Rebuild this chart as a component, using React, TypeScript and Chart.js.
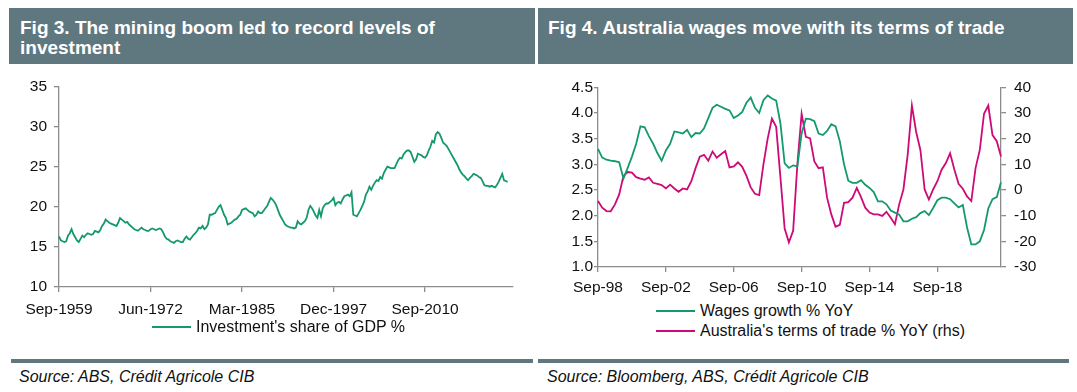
import React, { useEffect, useRef } from 'react';
import { Chart, registerables } from 'chart.js';

Chart.register(...registerables);

const FONT = '"Liberation Sans", Arial, Helvetica, sans-serif';
const GREEN = '#14996b';
const MAGENTA = '#cc0a78';
const AXIS = '#8c8c8c';
const BAND = '#5f7880';
const MONTHS = ['Mar', 'Jun', 'Sep', 'Dec'];

// ---------- Fig 3 data (quarterly, from Sep-1959) ----------
const invStartYear = 1959;
const invQuarterCount = 254;
const invTickLabels = ['Sep-1959', 'Jun-1972', 'Mar-1985', 'Dec-1997', 'Sep-2010'];
const investmentShare = [
  16.3, 15.8, 15.7, 15.6, 15.7, 16.4, 16.7, 17.2, 16.6, 16.2,
  15.8, 15.6, 16.0, 16.4, 16.2, 16.5, 16.7, 16.6, 16.5, 16.6,
  17.0, 16.9, 16.8, 17.1, 17.6, 17.9, 18.4, 18.2, 18.0, 17.9,
  17.8, 17.7, 17.6, 18.0, 18.6, 18.4, 18.2, 18.0, 18.1, 17.8,
  17.6, 17.4, 17.2, 17.1, 17.0, 17.2, 17.4, 17.2, 17.1, 17.0,
  17.0, 17.2, 17.3, 17.2, 17.1, 17.2, 17.3, 17.2, 16.8, 16.3,
  16.0, 15.9, 15.7, 15.6, 15.5, 15.7, 15.8, 15.7, 15.6, 15.6,
  16.0, 16.3, 16.0, 15.9, 16.2, 16.5, 16.7, 17.0, 17.4, 17.3,
  17.6, 17.2, 17.4, 17.8, 19.0, 19.0, 19.1, 19.2, 19.6, 20.0,
  20.2, 19.6, 19.0, 18.6, 17.8, 17.9, 18.0, 18.2, 18.4, 18.5,
  18.8, 19.0, 19.6, 19.7, 19.8, 19.6, 19.4, 19.3, 19.2, 18.8,
  19.0, 19.4, 19.2, 19.2, 19.5, 19.8, 20.1, 20.6, 21.1, 20.9,
  20.6, 20.2, 19.6, 19.0, 18.6, 18.2, 17.8, 17.6, 17.5, 17.4,
  17.4, 17.3, 17.4, 18.2, 17.9, 17.8, 18.0, 18.2, 18.6, 19.6,
  20.1, 19.8, 19.4, 18.9, 18.6, 19.6, 18.8, 19.8, 20.2, 20.4,
  20.4, 20.6, 20.8, 21.1, 20.2, 20.5, 20.6, 20.4, 20.9, 21.3,
  21.4, 21.5, 21.3, 21.8, 19.0, 18.9, 18.8, 19.2, 19.6, 20.1,
  20.6, 21.5, 21.9, 22.5, 22.1, 22.6, 23.0, 23.3, 23.2, 23.7,
  23.5, 24.2, 24.6, 25.0, 24.9, 24.8, 24.8, 24.8, 25.3, 25.8,
  26.1, 26.0, 26.5, 26.8, 27.0, 27.0, 26.8, 26.2, 25.6, 25.9,
  26.6, 26.5, 26.4, 26.2, 26.1, 26.4, 27.0, 27.5, 28.2, 28.0,
  29.0, 29.3, 29.1, 28.6, 28.0, 27.8, 27.6, 27.2, 26.8, 26.4,
  26.0, 25.6, 25.2, 24.7, 24.3, 24.0, 23.8, 23.5, 23.3, 23.6,
  23.8, 24.1, 24.0, 23.9, 23.7, 23.6, 23.2, 22.7, 22.6, 22.6,
  22.5, 22.6, 22.5, 22.4, 22.7, 23.1, 23.6, 24.1, 23.3, 23.2,
  23.1,
];

// ---------- Fig 4 data (quarterly, from Sep-98) ----------
const wageStartYear = 1998;
const wageQuarterCount = 96;
const wageTickLabels = ['Sep-98', 'Sep-02', 'Sep-06', 'Sep-10', 'Sep-14', 'Sep-18'];
const wagesGrowth = [
  3.30, 3.13, 3.09, 3.07, 3.06, 3.04, 2.72, 2.93, 3.15, 3.40,
  3.74, 3.72, 3.55, 3.40, 3.22, 3.07, 3.27, 3.40, 3.64, 3.62,
  3.60, 3.67, 3.53, 3.61, 3.60, 3.70, 3.90, 4.10, 4.16, 4.12,
  4.08, 4.05, 3.90, 3.95, 4.02, 4.20, 4.30, 4.10, 4.00, 4.25,
  4.34, 4.28, 4.24, 3.80, 3.02, 2.93, 2.98, 2.96, 3.60, 3.89,
  3.88, 3.84, 3.60, 3.57, 3.65, 3.78, 3.74, 3.45, 3.00, 2.68,
  2.64, 2.64, 2.69, 2.60, 2.54, 2.46, 2.28, 2.28, 2.22, 2.10,
  2.06, 2.02, 1.89, 1.89, 1.94, 1.97, 2.05, 2.09, 2.01, 2.15,
  2.30, 2.35, 2.35, 2.32, 2.24, 2.16, 2.21, 1.77, 1.44, 1.44,
  1.50, 1.72, 2.14, 2.32, 2.36, 2.65,
];
const termsOfTrade = [
  -4.3, -6.9, -8.2, -8.3, -5.6, -1.7, 5.5, 7.0, 6.8, 5.0,
  4.4, 4.0, 4.9, 2.8, 2.4, 1.9, 0.6, 2.1, 0.6, -0.7,
  0.6, 0.2, 3.4, 8.5, 13.0, 13.7, 11.4, 15.0, 12.6, 13.9,
  15.2, 8.8, 9.2, 10.8, 9.0, 5.5, 1.0, -1.5, -2.0, 10.0,
  20.0, 27.8, 24.6, 5.0, -15.0, -20.4, -15.9, 10.0, 29.7, 20.7,
  20.1, 11.1, 8.5, 8.8, -3.0, -9.5, -14.3, -13.6, -5.0, -4.7,
  -3.0, 0.8, -2.8, -6.9, -8.8, -9.5, -9.5, -10.1, -8.5, -10.8,
  -13.3, -5.6, 0.2, 13.7, 32.9, 22.6, 15.6, 0.2, -3.7, 0.2,
  3.4, 7.9, 10.5, 14.3, 8.0, 2.4, 0.5, -2.5, -4.3, 8.5,
  15.6, 29.7, 32.9, 21.4, 19.0, 13.0,
];

function quarterLabels(startYear: number, count: number, shortYear: boolean): string[] {
  const out: string[] = [];
  for (let q = 0; q < count; q++) {
    const k = 2 + q; // start in Sep
    const y = startYear + Math.floor(k / 4);
    const ys = shortYear ? String(y).slice(2) : String(y);
    out.push(`${MONTHS[k % 4]}-${ys}`);
  }
  return out;
}

const invCategories = quarterLabels(invStartYear, invQuarterCount, false);
const wageCategories = quarterLabels(wageStartYear, wageQuarterCount, true);

const tickFont = { family: FONT, size: 15.5 };

function axisGrid(tickLength: number) {
  return { display: true, drawOnChartArea: false, drawTicks: true, tickLength, color: AXIS, lineWidth: 1.3 };
}
const axisBorder = { display: true, color: AXIS, width: 1.3 };

function Fig3Chart() {
  const ref = useRef<HTMLCanvasElement | null>(null);
  useEffect(() => {
    if (!ref.current) return;
    const chart = new Chart(ref.current, {
      type: 'line',
      data: {
        labels: invCategories,
        datasets: [
          {
            label: "Investment's share of GDP %",
            data: investmentShare,
            borderColor: GREEN,
            borderWidth: 1.8,
            pointRadius: 0,
            fill: false,
            tension: 0,
          },
        ],
      },
      options: {
        animation: false,
        responsive: false,
        devicePixelRatio: 1,
        layout: { padding: { top: 15, right: 22, left: 0, bottom: 0 } },
        plugins: { legend: { display: false }, tooltip: { enabled: false } },
        scales: {
          x: {
            type: 'category',
            offset: false,
            grid: axisGrid(5),
            border: axisBorder,
            ticks: { autoSkip: false, maxRotation: 0, minRotation: 0, padding: 8, font: tickFont, color: '#111' },
            afterBuildTicks: (s: any) => {
              s.ticks = s.ticks.filter((t: any) => invTickLabels.includes(invCategories[t.value]));
            },
            afterFit: (s: any) => { s.height = 33; },
          },
          y: {
            min: 10,
            max: 35,
            grid: axisGrid(5),
            border: axisBorder,
            ticks: { stepSize: 5, padding: 7, font: tickFont, color: '#111' },
            afterFit: (s: any) => { s.width = 59; },
          },
        },
      } as any,
    });
    return () => chart.destroy();
  }, []);
  return <canvas ref={ref} width={535} height={250} style={{ position: 'absolute', left: 0, top: 70, width: 535, height: 250 }} />;
}

function Fig4Chart() {
  const ref = useRef<HTMLCanvasElement | null>(null);
  useEffect(() => {
    if (!ref.current) return;
    const chart = new Chart(ref.current, {
      type: 'line',
      data: {
        labels: wageCategories,
        datasets: [
          {
            label: 'Wages growth % YoY',
            data: wagesGrowth,
            borderColor: GREEN,
            borderWidth: 1.8,
            pointRadius: 0,
            fill: false,
            tension: 0,
            yAxisID: 'y',
          },
          {
            label: "Australia's terms of trade % YoY (rhs)",
            data: termsOfTrade,
            borderColor: MAGENTA,
            borderWidth: 1.8,
            pointRadius: 0,
            fill: false,
            tension: 0,
            yAxisID: 'y1',
          },
        ],
      },
      options: {
        animation: false,
        responsive: false,
        devicePixelRatio: 1,
        layout: { padding: { top: 17, right: 0, left: 0, bottom: 0 } },
        plugins: { legend: { display: false }, tooltip: { enabled: false } },
        scales: {
          x: {
            type: 'category',
            offset: false,
            grid: axisGrid(5),
            border: axisBorder,
            ticks: { autoSkip: false, maxRotation: 0, minRotation: 0, padding: 6, font: tickFont, color: '#111' },
            afterBuildTicks: (s: any) => {
              s.ticks = s.ticks.filter((t: any) => wageTickLabels.includes(wageCategories[t.value]));
            },
            afterFit: (s: any) => { s.height = 33; },
          },
          y: {
            position: 'left',
            min: 1.0,
            max: 4.5,
            grid: axisGrid(4),
            border: axisBorder,
            ticks: { stepSize: 0.5, padding: 1, font: tickFont, color: '#111', callback: (v: any) => Number(v).toFixed(1) },
            afterFit: (s: any) => { s.width = 60; },
          },
          y1: {
            position: 'right',
            min: -30,
            max: 40,
            grid: axisGrid(5),
            border: axisBorder,
            ticks: { stepSize: 10, padding: 8, font: tickFont, color: '#111', callback: (v: any) => String(v) },
            afterFit: (s: any) => { s.width = 72; },
          },
        },
      } as any,
    });
    return () => chart.destroy();
  }, []);
  return <canvas ref={ref} width={535} height={230} style={{ position: 'absolute', left: 538, top: 70, width: 535, height: 230 }} />;
}

const abs = (o: React.CSSProperties): React.CSSProperties => ({ position: 'absolute', ...o });

function LegendItem({ color, text, left, top }: { color: string; text: string; left: number; top: number }) {
  return (
    <div style={abs({ left, top, height: 18, whiteSpace: 'nowrap', fontSize: 16, lineHeight: '18px', color: '#111' })}>
      <span style={{ display: 'inline-block', width: 39, height: 2, background: color, verticalAlign: 'middle', marginRight: 5, position: 'relative', top: -1 }} />
      <span>{text}</span>
    </div>
  );
}

export default function App() {
  return (
    <div style={abs({ left: 0, top: 0, width: 1077, height: 392, background: '#fff', overflow: 'hidden', fontFamily: FONT })}>
      {/* header bands */}
      <div style={abs({ left: 9, top: 8, width: 526, height: 56, background: BAND })} />
      <div style={abs({ left: 538, top: 8, width: 535, height: 56, background: BAND })} />
      <div style={abs({ left: 20, top: 18, width: 500, color: '#fff', fontWeight: 'bold', fontSize: 19, lineHeight: '20px' })}>
        Fig 3. The mining boom led to record levels of<br />investment
      </div>
      <div style={abs({ left: 548, top: 18, width: 520, color: '#fff', fontWeight: 'bold', fontSize: 19, lineHeight: '20px', whiteSpace: 'nowrap' })}>
        Fig 4. Australia wages move with its terms of trade
      </div>

      <Fig3Chart />
      <Fig4Chart />

      {/* legends */}
      <LegendItem color={GREEN} text="Investment's share of GDP %" left={152} top={318} />
      <LegendItem color={GREEN} text="Wages growth % YoY" left={656} top={302} />
      <LegendItem color={MAGENTA} text="Australia's terms of trade % YoY (rhs)" left={656} top={322} />

      {/* footer bars */}
      <div style={abs({ left: 11, top: 359, width: 522, height: 4, background: BAND })} />
      <div style={abs({ left: 538, top: 359, width: 531, height: 4, background: BAND })} />
      <div style={abs({ left: 19, top: 368, fontSize: 16, lineHeight: '18px', fontStyle: 'italic', color: '#111', whiteSpace: 'nowrap' })}>
        Source: ABS, Crédit Agricole CIB
      </div>
      <div style={abs({ left: 547, top: 368, fontSize: 16, lineHeight: '18px', fontStyle: 'italic', color: '#111', whiteSpace: 'nowrap' })}>
        Source: Bloomberg, ABS, Crédit Agricole CIB
      </div>
    </div>
  );
}
